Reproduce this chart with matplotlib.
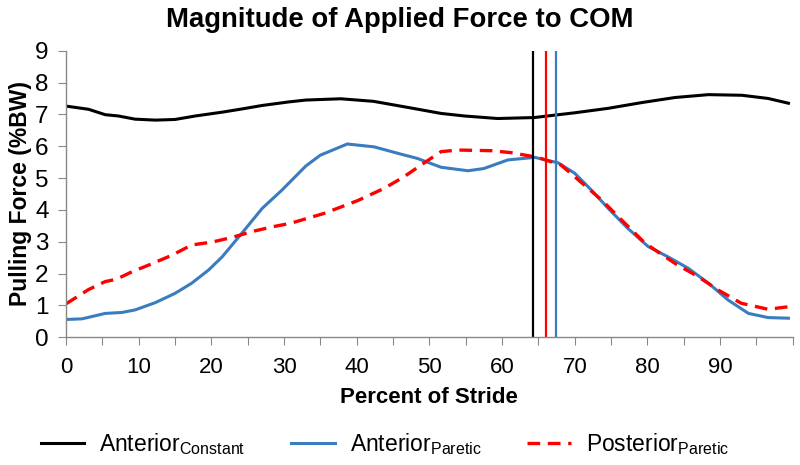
import matplotlib.pyplot as plt

plt.rcParams['font.family'] = ['Liberation Sans', 'DejaVu Sans']
plt.rcParams['mathtext.fontset'] = 'custom'
plt.rcParams['mathtext.rm'] = 'Liberation Sans'

# ===== Data =====
const_x = [0, 3.1, 5.4, 7.2, 9.5, 12.3, 15, 17.8, 21.5, 24.2, 27, 30.6, 33, 37.8, 42.3,
           47, 51.6, 54.8, 59.4, 64.4, 70, 74.6, 79.2, 83.8, 88.4, 93, 96.6, 99.4]
const_y = [7.26, 7.16, 6.99, 6.95, 6.85, 6.82, 6.84, 6.95, 7.07, 7.17, 7.28, 7.39, 7.45, 7.49, 7.41,
           7.22, 7.03, 6.95, 6.87, 6.9, 7.05, 7.19, 7.37, 7.53, 7.62, 7.6, 7.5, 7.35]

paretic_x = [0, 2.2, 5.4, 7.7, 9.5, 12.3, 15, 17.3, 19.6, 21.5, 24.2, 27, 29.7, 33, 35, 38.7,
             42.4, 46.1, 48.3, 51.6, 55.3, 57.5, 60.8, 64.5, 67.7, 70, 72.3, 74.6, 77.3, 80.1,
             82.8, 85.6, 88.4, 91.1, 93.9, 96.6, 99.4]
paretic_y = [0.56, 0.58, 0.75, 0.78, 0.86, 1.09, 1.38, 1.7, 2.11, 2.53, 3.27, 4.05, 4.62, 5.38, 5.72, 6.07,
             5.98, 5.75, 5.62, 5.34, 5.23, 5.3, 5.57, 5.65, 5.48, 5.15, 4.62, 4.05, 3.42, 2.85,
             2.53, 2.17, 1.7, 1.17, 0.75, 0.62, 0.6]

post_x = [0, 3.1, 5.4, 6.9, 9.1, 11.4, 14.6, 17.3, 20.1, 22.9, 25.6, 28.4, 30.9, 35.5, 40.1,
          43.8, 46.5, 49.3, 51.6, 53.9, 58.5, 61.2, 64.9, 68.1, 70, 73.7, 76.9, 79.7, 83.8,
          87, 89.7, 92.9, 96.6, 99.4]
post_y = [1.05, 1.5, 1.75, 1.82, 2.06, 2.27, 2.58, 2.9, 2.99, 3.14, 3.32, 3.47, 3.58, 3.89, 4.29,
          4.68, 5.04, 5.48, 5.83, 5.88, 5.86, 5.8, 5.65, 5.41, 5.04, 4.31, 3.58, 2.95, 2.32,
          1.9, 1.49, 1.07, 0.88, 0.96]

# vertical markers: constant, posterior paretic, anterior paretic
marker_x = [64.3, 66.1, 67.4]
marker_colors = ['black', '#FF0000', '#3A7CC0']

BLUE = '#3A7CC0'
RED = '#FF0000'

# ===== Plot =====
fig = plt.figure(figsize=(8, 4.65), dpi=100)
ax = fig.add_axes([0.0825, 0.2746, 0.9085, 0.6164])

ax.plot(const_x, const_y, color='black', lw=2.2, label=r'Anterior$_{\mathrm{Constant}}$')
ax.plot(paretic_x, paretic_y, color=BLUE, lw=2.2, label=r'Anterior$_{\mathrm{Paretic}}$')
ax.plot(post_x, post_y, color=RED, lw=2.4, ls=(0, (3.8, 2.3)), label=r'Posterior$_{\mathrm{Paretic}}$')

for xv, c in zip(marker_x, marker_colors):
    ax.axvline(xv, color=c, lw=1.6)

ax.set_xlim(0, 100)
ax.set_ylim(0, 9)
ax.set_xticks(range(0, 101, 5))
ax.set_xticklabels([str(v) if v % 10 == 0 and v < 100 else '' for v in range(0, 101, 5)])
ax.set_yticks(range(0, 10))

for s in ['top', 'right']:
    ax.spines[s].set_visible(False)
for s in ['left', 'bottom']:
    ax.spines[s].set_color('#888888')
    ax.spines[s].set_linewidth(1)
ax.tick_params(axis='both', direction='out', color='#888888', length=5.5)
ax.tick_params(axis='x', labelsize=16, pad=9)
ax.tick_params(axis='y', labelsize=17.5, pad=7)

fig.suptitle('Magnitude of Applied Force to COM', x=0.5, y=0.957, va='center',
             fontsize=19.8, fontweight='bold')
ax.set_xlabel('Percent of Stride', fontsize=16, fontweight='bold', labelpad=6)
ax.set_ylabel('Pulling Force (%BW)', fontsize=16.5, fontweight='bold', labelpad=2)

fig.legend(loc='center', bbox_to_anchor=(0.481, 0.045), ncol=3, frameon=False,
           fontsize=16.5, handlelength=1.9, columnspacing=2.0, handletextpad=0.65)

fig.savefig('out.png', dpi=100)
